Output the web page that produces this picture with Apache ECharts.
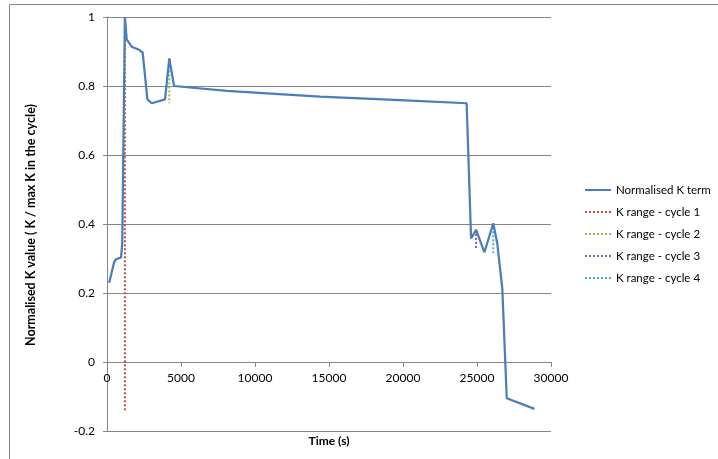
<!DOCTYPE html>
<html>
<head>
<meta charset="utf-8">
<script src="https://cdn.jsdelivr.net/npm/echarts@6/dist/echarts.min.js"></script>
<style>
html,body{margin:0;padding:0;background:#fff;}
#c{width:718px;height:459px;}
</style>
</head>
<body>
<div id="c"></div>
<script>
// Data
var mainTime = [150, 470, 610, 950, 1030, 1210, 1330, 1670, 2120, 2410, 2730, 3020, 3920, 4210, 4530, 8090, 14390, 19800, 24300, 24600, 24940, 25500, 26100, 26370, 26710, 27010, 28880];
var mainK = [0.23, 0.288, 0.298, 0.303, 0.344, 1.0, 0.935, 0.914, 0.906, 0.897, 0.761, 0.750, 0.761, 0.880, 0.80, 0.786, 0.769, 0.759, 0.75, 0.358, 0.383, 0.318, 0.402, 0.344, 0.213, -0.105, -0.136];

var cycle1Time = [1210, 1210];
var cycle1K = [-0.14, 1.0];
var cycle2Time = [4210, 4210];
var cycle2K = [0.88, 0.75];
var cycle3Time = [24940, 24940];
var cycle3K = [0.383, 0.33];
var cycle4Time = [26100, 26100];
var cycle4K = [0.402, 0.316];

var seriesNames = ['Normalised K term', 'K range - cycle 1', 'K range - cycle 2', 'K range - cycle 3', 'K range - cycle 4'];
var xTicks = [0, 5000, 10000, 15000, 20000, 25000, 30000];
var yTicks = [-0.2, 0, 0.2, 0.4, 0.6, 0.8, 1];

function pairs(xs, ys) { return xs.map(function (x, i) { return [x, ys[i]]; }); }

var FONT = 'Lato';
var GRID_TOP = 17, GRID_BOTTOM = 28, H = 459;
var plotH = H - GRID_TOP - GRID_BOTTOM;
var yMin = yTicks[0], yMax = yTicks[yTicks.length - 1];
// distance from bottom edge of plot to the y = 0 line, so the x axis sits on zero
var zeroOffset = plotH * (0 - yMin) / (yMax - yMin);

var chart = echarts.init(document.getElementById('c'), null, { renderer: 'canvas' });

function dotted(name, xs, ys, color) {
  return {
    name: name, type: 'line', data: pairs(xs, ys), showSymbol: false, symbol: 'none',
    lineStyle: { color: color, width: 2, type: [2, 2] }, itemStyle: { color: color },
    animation: false, z: 3
  };
}

chart.setOption({
  animation: false,
  backgroundColor: '#ffffff',
  textStyle: { fontFamily: FONT },
  grid: { left: 107, top: GRID_TOP, right: 167, bottom: GRID_BOTTOM, containLabel: false },
  xAxis: {
    type: 'value', min: xTicks[0], max: xTicks[xTicks.length - 1], interval: 5000,
    position: 'bottom', offset: -zeroOffset,
    axisLine: { onZero: false, lineStyle: { color: '#868686', width: 1 } },
    axisTick: { show: true, length: 5, lineStyle: { color: '#868686' } },
    axisLabel: { color: '#000', fontSize: 12, fontFamily: FONT, margin: 10,
      formatter: function (v) { return String(v); } },
    splitLine: { show: false }
  },
  yAxis: {
    type: 'value', min: yMin, max: yMax, interval: 0.2,
    axisLine: { show: true, onZero: false, lineStyle: { color: '#868686', width: 1 } },
    axisTick: { show: true, length: 4, lineStyle: { color: '#868686' } },
    axisLabel: { color: '#000', fontSize: 12, fontFamily: FONT, margin: 12,
      formatter: function (v) { return String(Math.round(v * 10) / 10); } },
    splitLine: { show: true, showMinLine: true, showMaxLine: true, lineStyle: { color: '#868686', width: 1 } }
  },
  legend: {
    show: true, orient: 'vertical', left: 579, top: 179, itemWidth: 26, itemHeight: 14, itemGap: 10,
    data: seriesNames,
    itemStyle: { opacity: 0 },
    textStyle: { color: '#000', fontSize: 11.5, fontFamily: FONT }
  },
  graphic: [
    { type: 'line', silent: true, shape: { x1: 9.5, y1: 4.5, x2: 718, y2: 4.5 }, style: { stroke: '#868686', lineWidth: 1 } },
    { type: 'line', silent: true, shape: { x1: 9.5, y1: 4.5, x2: 9.5, y2: 459 }, style: { stroke: '#868686', lineWidth: 1 } },
    { type: 'text', silent: true, x: 329, y: 441,
      style: { text: 'Time (s)', font: 'bold 12px ' + FONT, fill: '#000', align: 'center', verticalAlign: 'middle' } },
    { type: 'text', silent: true, x: 31, y: 225, rotation: Math.PI / 2,
      style: { text: 'Normalised K value ( K / max K in the cycle)', font: 'bold 12.5px ' + FONT, fill: '#000', align: 'center', verticalAlign: 'middle' } }
  ],
  series: [
    { name: seriesNames[0], type: 'line', data: pairs(mainTime, mainK), showSymbol: false, symbol: 'none',
      lineStyle: { color: '#4A7EBB', width: 2.25 }, itemStyle: { color: '#4A7EBB' }, z: 4 },
    dotted(seriesNames[1], cycle1Time, cycle1K, '#BE4B48'),
    dotted(seriesNames[2], cycle2Time, cycle2K, '#98B954'),
    dotted(seriesNames[3], cycle3Time, cycle3K, '#7D60A0'),
    dotted(seriesNames[4], cycle4Time, cycle4K, '#46AAC5')
  ]
});
</script>
</body>
</html>
